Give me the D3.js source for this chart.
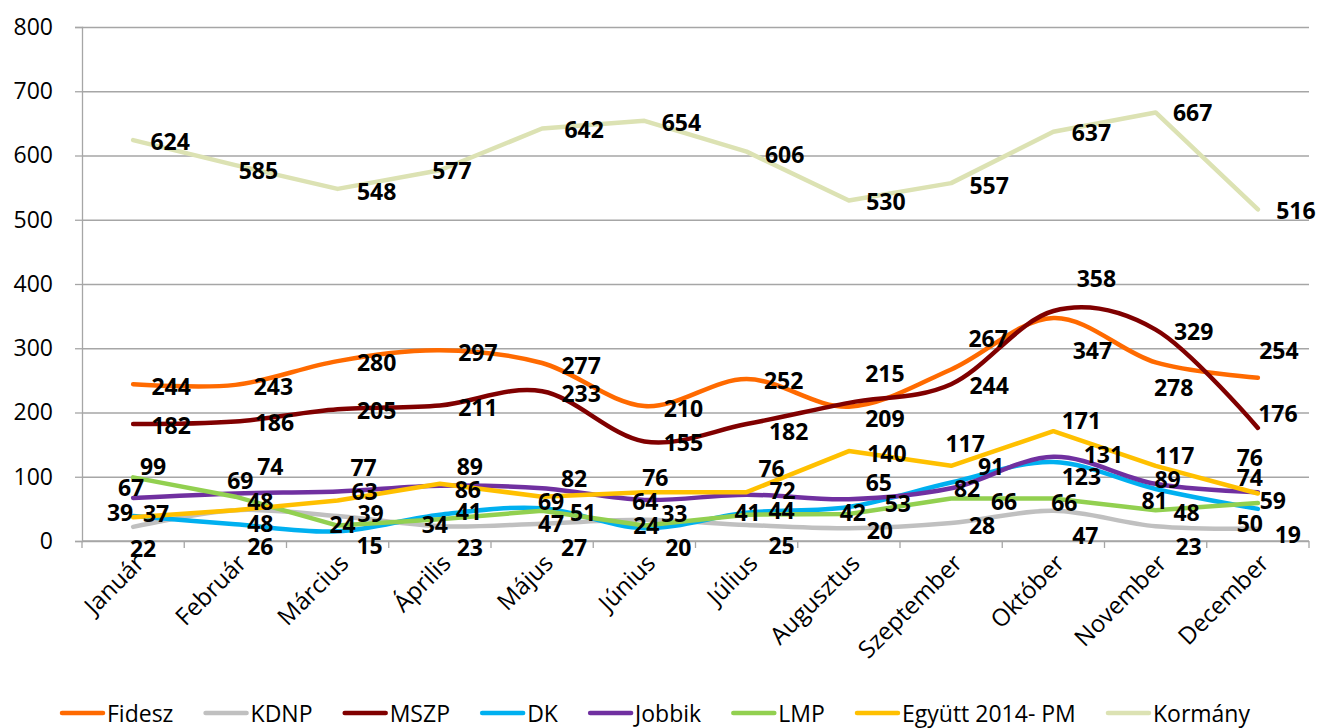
<!DOCTYPE html>
<html><head><meta charset="utf-8">
<script src="https://cdn.jsdelivr.net/npm/d3@7"></script>
<style>
html,body{margin:0;padding:0;background:#fff;}
svg{display:block;font-family:"Open Sans",sans-serif;}
</style></head>
<body><svg id="chart" width="1319" height="728"></svg>
<script>
// ---- data ----
const months = ["Január","Február","Március","Április","Május","Június","Július","Augusztus","Szeptember","Október","November","December"];
const fidesz  = [244,243,280,297,277,210,252,209,267,347,278,254];
const kdnp    = [22,48,39,23,27,33,25,20,28,47,23,19];
const mszp    = [182,186,205,211,233,155,182,215,244,358,329,176];
const dk      = [39,26,15,41,51,20,44,53,91,123,81,50];
const jobbik  = [67,74,77,86,82,64,72,65,82,131,89,76];
const lmp     = [99,69,24,34,47,24,41,42,66,66,48,59];
const egyutt  = [37,48,63,89,69,76,76,140,117,171,117,74];
const kormany = [624,585,548,577,642,654,606,530,557,637,667,516];
const seriesNames = ["Fidesz","KDNP","MSZP","DK","Jobbik","LMP","Együtt 2014- PM","Kormány"];
const yTicks = [0,100,200,300,400,500,600,700,800];

// ---- styling / layout (kept apart from the data) ----
const colors = ["#FF6A00","#C0C0C0","#800000","#00B0F0","#7030A0","#92D050","#FFC000","#DCE2B3"];
const smooth = [true,true,true,true,true,false,false,false];
const labelNudge = [
  [[38,2],[38,1],[39,1],[38,2],[39,2],[39,2],[37,1],[36,11],[37,-31],[39,32],[18,25],[21,-28]],
  [[10,21],[25,13],[33,-3],[30,21],[32,23],[30,-7],[35,20],[31,2],[31,2],[32,24],[33,20],[30,5]],
  [[38,1],[39,1],[39,1],[38,2],[39,2],[39,1],[42,7],[36,-30],[38,1],[43,-33],[38,1],[20,-15]],
  [[-13,-4],[25,22],[32,14],[29,-4],[41,4],[34,19],[35,-3],[49,-4],[40,-17],[28,14],[-1,11],[-8,14]],
  [[-2,-11],[35,-27],[26,-25],[28,3],[32,-10],[1,1],[36,-5],[30,-17],[16,0],[50,-3],[12,-5],[-8,-35]],
  [[20,-11],[5,-17],[5,-2],[-5,5],[9,12],[2,-1],[1,-3],[4,-2],[53,2],[11,3],[31,2],[15,-3]],
  [[23,-4],[25,-9],[27,-10],[30,-18],[9,4],[11,-15],[25,-24],[38,2],[14,-23],[28,-11],[19,-11],[-8,-16]],
  [[37,1],[23,5],[39,2],[12,0],[42,0],[37,1],[38,2],[37,1],[38,2],[38,0],[37,0],[38,1]]
];

const seriesValues = [fidesz,kdnp,mszp,dk,jobbik,lmp,egyutt,kormany];

const svg = d3.select("#chart");
const L = 82, R = 1309, T = 27, B = 541;

const xBand = d3.scaleBand().domain(months).range([L,R]);
const xc = m => xBand(m) + xBand.bandwidth()/2;
const y = d3.scaleLinear().domain([0,800]).range([B,T]);

// gridlines
svg.append("g").attr("transform",`translate(${L},0)`)
  .call(d3.axisLeft(y).tickValues(yTicks).tickSize(-(R-L)).tickFormat(""))
  .call(g=>g.select(".domain").remove())
  .call(g=>g.selectAll("line").attr("stroke","#A6A6A6").attr("stroke-width",1.3));

// y axis
svg.append("g").attr("transform",`translate(${L},0)`)
  .call(d3.axisLeft(y).tickValues(yTicks).tickSize(7).tickPadding(22))
  .call(g=>g.select(".domain").attr("stroke","#A6A6A6").attr("stroke-width",1.3))
  .call(g=>g.selectAll("line").attr("stroke","#A6A6A6").attr("stroke-width",1.3))
  .call(g=>g.selectAll("text").attr("font-family","Open Sans").attr("font-size",23).attr("fill","#000"));

// x axis line + boundary ticks
const xAx = svg.append("g");
xAx.append("line").attr("x1",L).attr("x2",R).attr("y1",B).attr("y2",B)
  .attr("stroke","#A6A6A6").attr("stroke-width",1.3);
xAx.selectAll("line.tk").data(months.concat([null])).join("line").attr("class","tk")
  .attr("x1",(d,i)=> i<months.length ? xBand(d) : R)
  .attr("x2",(d,i)=> i<months.length ? xBand(d) : R)
  .attr("y1",B).attr("y2",B+7).attr("stroke","#A6A6A6").attr("stroke-width",1.3);
xAx.selectAll("text").data(months).join("text")
  .attr("transform",d=>`translate(${xc(d)+8},${B+19}) rotate(-45)`)
  .attr("text-anchor","end").attr("dominant-baseline","middle")
  .attr("font-size",24).attr("fill","#000").text(d=>d);

// lines
const lineGen = (isSmooth)=> d3.line()
  .x((d,i)=>xc(months[i])).y(d=>y(d))
  .curve(isSmooth ? d3.curveCardinal.tension(0) : d3.curveLinear);

const lg = svg.append("g");
seriesValues.forEach((vals,si)=>{
  lg.append("path").datum(vals)
    .attr("d",lineGen(smooth[si]))
    .attr("fill","none").attr("stroke",colors[si]).attr("stroke-width",4.5)
    .attr("stroke-linejoin","round").attr("stroke-linecap","round");
});

// data labels
const lab = svg.append("g");
seriesValues.forEach((vals,si)=>{
  lab.selectAll(null).data(vals).join("text")
    .attr("x",(d,i)=>xc(months[i]) + labelNudge[si][i][0])
    .attr("y",(d,i)=>y(d) + labelNudge[si][i][1])
    .attr("text-anchor","middle").attr("dominant-baseline","central")
    .attr("font-size",23).attr("font-weight","bold").attr("fill","#000")
    .text(d=>d);
});

// legend
const leg = svg.append("g");
const ly = 713, lineLen = 41, txtGap = 4;
const items = seriesNames.map((n,i)=>{
  const g = leg.append("g");
  g.append("line").attr("x1",0).attr("x2",lineLen).attr("y1",0).attr("y2",0)
    .attr("stroke",colors[i]).attr("stroke-width",4.5).attr("stroke-linecap","round");
  const t = g.append("text").attr("x",lineLen+txtGap).attr("y",0)
    .attr("dominant-baseline","central").attr("font-size",23).attr("fill","#000").text(n);
  return {g, w: lineLen+txtGap+t.node().getComputedTextLength()};
});
const startX = 62, endX = 1250;
const sumW = d3.sum(items,d=>d.w);
const gap = (endX-startX-sumW)/(items.length-1);
let cx = startX;
items.forEach(it=>{ it.g.attr("transform",`translate(${cx},${ly})`); cx += it.w + gap; });
</script>
</body></html>
